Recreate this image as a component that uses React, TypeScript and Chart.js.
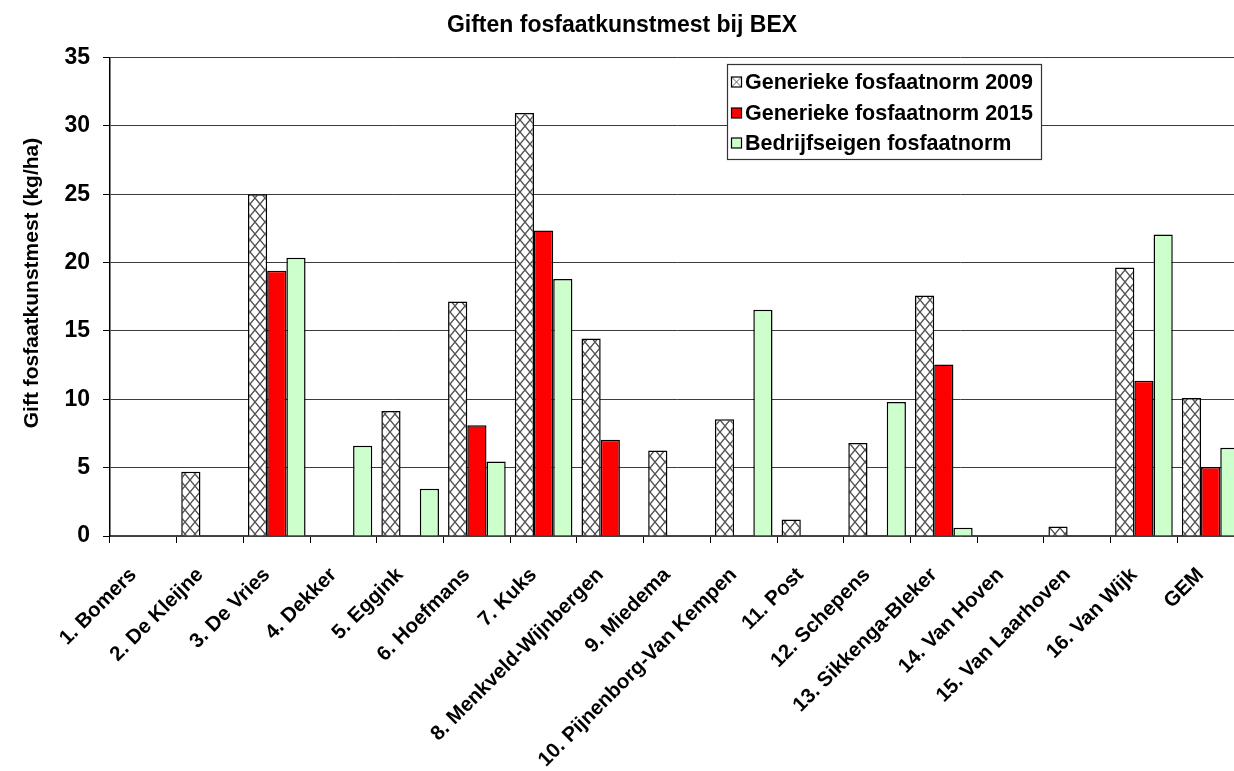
import React, { useEffect, useRef } from "react";
import { Chart, registerables } from "chart.js";

Chart.register(...registerables);

const FONT = "'Liberation Sans', Arial, sans-serif";

const titleText = "Giften fosfaatkunstmest bij BEX";
const yAxisTitle = "Gift fosfaatkunstmest (kg/ha)";

const categories = [
  "1. Bomers",
  "2. De Kleijne",
  "3. De Vries",
  "4. Dekker",
  "5. Eggink",
  "6. Hoefmans",
  "7. Kuks",
  "8. Menkveld-Wijnbergen",
  "9. Miedema",
  "10. Pijnenborg-Van Kempen",
  "11. Post",
  "12. Schepens",
  "13. Sikkenga-Bleker",
  "14. Van Hoven",
  "15. Van Laarhoven",
  "16. Van Wijk",
  "GEM",
];

const seriesNames = [
  "Generieke fosfaatnorm 2009",
  "Generieke fosfaatnorm 2015",
  "Bedrijfseigen fosfaatnorm",
];

const norm2009 = [0, 4.7, 25.0, 0, 9.15, 17.15, 30.95, 14.45, 6.25, 8.55, 1.2, 6.8, 17.6, 0, 0.7, 19.65, 10.1];
const norm2015 = [0, 0, 19.4, 0, 0, 8.1, 22.35, 7.05, 0, 0, 0, 0, 12.55, 0, 0, 11.35, 5.05];
const normOwn = [0, 0, 20.35, 6.6, 3.45, 5.45, 18.8, 0, 0, 16.55, 0, 9.8, 0.6, 0, 0, 22.05, 6.45];

const yMin = 0;
const yMax = 35;
const yStep = 5;

function makeHatch(): CanvasPattern | string {
  const c = document.createElement("canvas");
  c.width = 10;
  c.height = 12;
  const g = c.getContext("2d");
  if (!g) return "#fff";
  g.fillStyle = "#ffffff";
  g.fillRect(0, 0, 10, 12);
  g.strokeStyle = "#505050";
  g.lineWidth = 1.4;
  g.beginPath();
  g.moveTo(0, 0);
  g.lineTo(10, 12);
  g.moveTo(10, 0);
  g.lineTo(0, 12);
  g.stroke();
  return g.createPattern(c, "repeat") || "#fff";
}

const yTitlePlugin = {
  id: "yTitleText",
  afterDraw(chart: any) {
    const ctx: CanvasRenderingContext2D = chart.ctx;
    ctx.save();
    ctx.translate(32, 283);
    ctx.rotate(-Math.PI / 2);
    ctx.fillStyle = "#000";
    ctx.font = `bold 21px ${FONT}`;
    ctx.textAlign = "center";
    ctx.textBaseline = "middle";
    ctx.fillText(yAxisTitle, 0, 0);
    ctx.restore();
  },
};

const boxLegend = {
  id: "boxLegend",
  afterDraw(chart: any) {
    const ctx: CanvasRenderingContext2D = chart.ctx;
    const x0 = 727;
    const y0 = 64;
    const w = 314;
    const h = 95;
    ctx.save();
    ctx.fillStyle = "#ffffff";
    ctx.fillRect(x0, y0, w, h);
    ctx.strokeStyle = "#333333";
    ctx.lineWidth = 1.2;
    ctx.strokeRect(x0 + 0.5, y0 + 0.5, w, h);
    const rows = [82, 113, 143];
    chart.data.datasets.forEach((ds: any, i: number) => {
      const cy = rows[i];
      const sx = 731.5;
      const sy = cy - 5;
      const s = 10;
      if (i === 0) {
        ctx.fillStyle = "#ffffff";
        ctx.fillRect(sx, sy, s, s);
        ctx.strokeStyle = "#666";
        ctx.lineWidth = 1;
        ctx.beginPath();
        ctx.moveTo(sx, sy);
        ctx.lineTo(sx + s, sy + s);
        ctx.moveTo(sx + s, sy);
        ctx.lineTo(sx, sy + s);
        ctx.stroke();
      } else {
        ctx.fillStyle = ds.backgroundColor;
        ctx.fillRect(sx, sy, s, s);
      }
      ctx.strokeStyle = "#000";
      ctx.lineWidth = 1.2;
      ctx.strokeRect(sx, sy, s, s);
      ctx.fillStyle = "#000";
      ctx.font = `bold 21.5px ${FONT}`;
      ctx.textBaseline = "middle";
      ctx.textAlign = "left";
      ctx.fillText(ds.label, 745, cy + 1);
    });
    ctx.restore();
  },
};

export default function App() {
  const ref = useRef<HTMLCanvasElement | null>(null);

  useEffect(() => {
    document.body.style.margin = "0";
    document.body.style.overflow = "hidden";
    const canvas = ref.current;
    if (!canvas) return;
    const hatch = makeHatch();
    const chart = new Chart(canvas, {
      type: "bar",
      data: {
        labels: categories,
        datasets: [
          {
            label: seriesNames[0],
            data: norm2009,
            backgroundColor: hatch as any,
            borderColor: "#000",
            borderWidth: 1.5,
          },
          {
            label: seriesNames[1],
            data: norm2015,
            backgroundColor: "#ff0000",
            borderColor: "#000",
            borderWidth: 1.5,
          },
          {
            label: seriesNames[2],
            data: normOwn,
            backgroundColor: "#ccffcc",
            borderColor: "#000",
            borderWidth: 1.5,
          },
        ],
      },
      plugins: [boxLegend, yTitlePlugin],
      options: {
        responsive: false,
        animation: false,
        devicePixelRatio: 1,
        layout: { padding: { left: 0, right: 6, top: 0, bottom: 0 } },
        datasets: {
          bar: { categoryPercentage: 0.864, barPercentage: 1.0 },
        },
        plugins: {
          legend: { display: false },
          tooltip: { enabled: false },
          title: {
            display: true,
            text: titleText,
            color: "#000",
            font: { family: FONT, size: 23, weight: "bold" },
            padding: { top: 12, bottom: 18 },
          },
        },
        scales: {
          x: {
            grid: {
              offset: true,
              drawOnChartArea: false,
              drawTicks: true,
              tickLength: 7,
              color: "#000",
            },
            border: { display: true, color: "#444", width: 1.5 },
            ticks: {
              maxRotation: 45,
              minRotation: 45,
              autoSkip: false,
              color: "#000",
              padding: 20,
              labelOffset: -10,
              font: { family: FONT, size: 20.5, weight: "bold" },
            },
            afterFit: (scale: any) => {
              scale.height = 235;
            },
          },
          y: {
            min: yMin,
            max: yMax,
            ticks: {
              stepSize: yStep,
              color: "#000",
              padding: 13,
              font: { family: FONT, size: 23, weight: "bold" },
            },
            grid: {
              color: "#3c3c3c",
              lineWidth: 1,
              tickLength: 7,
              tickColor: "#000",
            },
            border: { display: true, color: "#000", width: 1.5 },
            title: { display: false },
            afterFit: (scale: any) => {
              scale.width = 110;
            },
          },
        },
      },
    });
    return () => chart.destroy();
  }, []);

  return (
    <div style={{ width: 1234, height: 771, overflow: "hidden", position: "relative", background: "#fff" }}>
      <canvas ref={ref} width={1250} height={771} style={{ width: 1250, height: 771, display: "block" }} />
    </div>
  );
}
